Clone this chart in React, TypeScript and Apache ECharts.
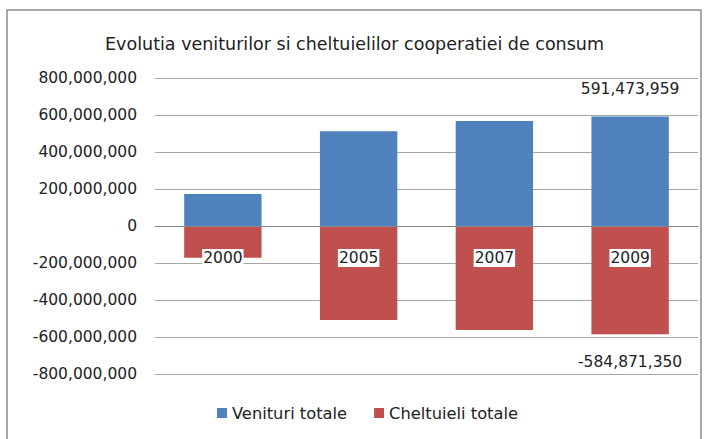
import React, { useEffect, useRef } from "react";
import * as echarts from "echarts";

const categories = ["2000", "2005", "2007", "2009"];
const venituri = [173000000, 512000000, 568000000, 591473959];
const cheltuieli = [-172000000, -508000000, -562000000, -584871350];
const labelIndex = 3;
const yTicks = { min: -800000000, max: 800000000, interval: 200000000 };

const FONT = "DejaVu Sans";
const fmt = (v: number) => {
  const s = Math.abs(Math.round(v)).toString().replace(/\B(?=(\d{3})+(?!\d))/g, ",");
  return (v < 0 ? "-" : "") + s;
};

export default function App() {
  const ref = useRef<HTMLDivElement>(null);
  useEffect(() => {
    if (!ref.current) return;
    const chart = echarts.init(ref.current, null, { renderer: "svg" });
    const mk = (arr: number[], pos: "top" | "bottom") =>
      arr.map((v, i) =>
        i === labelIndex
          ? {
              value: v,
              label: {
                show: true,
                position: pos,
                distance: 20,
                formatter: () => fmt(v),
                color: "#222",
                fontSize: 15.5,
                fontFamily: FONT,
              },
            }
          : v
      );
    chart.setOption({
      animation: false,
      backgroundColor: "#fff",
      textStyle: { fontFamily: FONT },
      graphic: [
        {
          type: "rect",
          shape: { x: 7, y: 10, width: 694, height: 460 },
          style: { fill: "none", stroke: "#8c8c8c", lineWidth: 1.5 },
          silent: true,
        },
      ],
      title: {
        text: "Evolutia veniturilor si cheltuielilor cooperatiei de consum",
        left: "center",
        top: 30,
        textStyle: { fontSize: 17.5, fontWeight: "normal", color: "#222", fontFamily: FONT },
      },
      legend: {
        bottom: 13,
        left: 212,
        itemWidth: 10,
        itemHeight: 10,
        itemGap: 27,
        icon: "rect",
        textStyle: { fontSize: 16.3, color: "#222", fontFamily: FONT },
        data: ["Venituri totale", "Cheltuieli totale"],
      },
      grid: { left: 155, right: 11, top: 78, bottom: 65 },
      xAxis: {
        type: "category",
        data: categories,
        z: 10,
        offset: -148,
        axisLine: { onZero: false, lineStyle: { color: "#888" } },
        axisTick: { show: false },
        axisLabel: {
          margin: 23,
          fontSize: 15.5,
          color: "#222",
          fontFamily: FONT,
          backgroundColor: "#fff",
          padding: [1, 1, 1, 1],
        },
      },
      yAxis: {
        type: "value",
        min: yTicks.min,
        max: yTicks.max,
        interval: yTicks.interval,
        axisLine: { show: false },
        axisTick: { show: false },
        splitLine: { lineStyle: { color: "#a6a6a6", width: 1 } },
        axisLabel: {
          formatter: (v: number) => fmt(v),
          fontSize: 15.5,
          color: "#222",
          fontFamily: FONT,
          margin: 18,
        },
      },
      series: [
        {
          name: "Venituri totale",
          type: "bar",
          stack: "s",
          barWidth: "57%",
          itemStyle: { color: "#4F81BD" },
          data: mk(venituri, "top"),
        },
        {
          name: "Cheltuieli totale",
          type: "bar",
          stack: "s",
          barWidth: "57%",
          itemStyle: { color: "#C0504D" },
          data: mk(cheltuieli, "bottom"),
        },
      ],
    });
    return () => chart.dispose();
  }, []);
  return (
    <div
      ref={ref}
      style={{ position: "fixed", left: 0, top: 0, width: 709, height: 439 }}
    />
  );
}
